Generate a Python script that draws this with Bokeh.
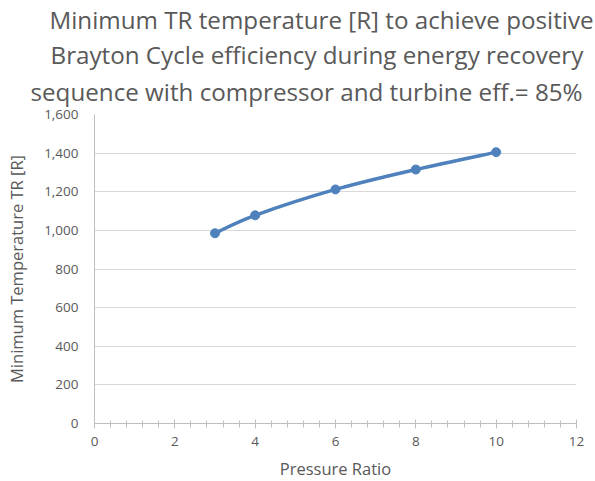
from bokeh.plotting import figure
from bokeh.models import Title, Range1d, FixedTicker, NumeralTickFormatter
from bokeh.embed import file_html
from bokeh.resources import INLINE

pressure_ratio = [3, 4, 6, 8, 10]
min_temp_R = [985, 1078, 1212, 1315, 1405]

title_lines = [
    "Minimum TR temperature [R] to achieve positive",
    "Brayton Cycle efficiency during energy recovery",
    "sequence with compressor and turbine eff.= 85%",
]
title_offsets = [-45, -44, -64]
x_ticks = [0, 2, 4, 6, 8, 10, 12]
y_ticks = [0, 200, 400, 600, 800, 1000, 1200, 1400, 1600]

FONT = "Open Sans"
GRAY = "#595959"
LINE = "#4f81bd"

p = figure(frame_width=482, frame_height=309, output_backend="svg", toolbar_location=None,
           x_range=Range1d(0, 12), y_range=Range1d(0, 1600),
           min_border_left=94, min_border_right=19, min_border_bottom=50,
           min_border_top=113, title=None)
p.outline_line_color = None
p.background_fill_color = "white"
p.border_fill_color = "white"

for i in (2, 1, 0):
    p.add_layout(Title(text=title_lines[i], align="left", offset=title_offsets[i],
                       text_font=FONT, text_font_size="24.2px", text_color=GRAY,
                       text_font_style="normal",
                       vertical_align="top" if i == 2 else "bottom",
                       standoff=9 if i == 2 else 0),
                 "above")

# smooth curve (Catmull-Rom style bezier segments computed from the data)
xs, ys = pressure_ratio, min_temp_R
n = len(xs)
x0, y0, x1, y1, cx0, cy0, cx1, cy1 = [], [], [], [], [], [], [], []
for i in range(n - 1):
    xp, yp = (xs[i - 1], ys[i - 1]) if i > 0 else (xs[i], ys[i])
    xn, yn = (xs[i + 2], ys[i + 2]) if i + 2 < n else (xs[i + 1], ys[i + 1])
    x0.append(xs[i]); y0.append(ys[i]); x1.append(xs[i + 1]); y1.append(ys[i + 1])
    cx0.append(xs[i] + (xs[i + 1] - xp) / 6); cy0.append(ys[i] + (ys[i + 1] - yp) / 6)
    cx1.append(xs[i + 1] - (xn - xs[i]) / 6); cy1.append(ys[i + 1] - (yn - ys[i]) / 6)
p.bezier(x0=x0, y0=y0, x1=x1, y1=y1, cx0=cx0, cy0=cy0, cx1=cx1, cy1=cy1,
         line_color=LINE, line_width=3.5)
p.scatter(xs, ys, size=9, color=LINE)

# axes
p.xaxis.ticker = FixedTicker(ticks=x_ticks, minor_ticks=[i * 0.4 for i in range(31)])
p.yaxis.ticker = FixedTicker(ticks=y_ticks)
p.yaxis.formatter = NumeralTickFormatter(format="0,0")
p.xaxis.axis_label = "Pressure Ratio"
p.yaxis.axis_label = "Minimum Temperature TR [R]"
for ax in (p.xaxis[0], p.yaxis[0]):
    ax.axis_label_text_font = FONT
    ax.axis_label_text_font_size = "16.5px"
    ax.axis_label_text_color = GRAY
    ax.axis_label_text_font_style = "normal"
    ax.major_label_text_font = FONT
    ax.major_label_text_font_size = "13.5px"
    ax.major_label_text_color = GRAY
    ax.axis_line_color = "#bfbfbf"
    ax.major_tick_line_color = "#bfbfbf"
    ax.minor_tick_line_color = "#bfbfbf"
p.xaxis.major_tick_in = 4
p.xaxis.major_tick_out = 5
p.xaxis.minor_tick_in = 3
p.xaxis.minor_tick_out = 4
p.xaxis.major_label_standoff = 8
p.xaxis.axis_label_standoff = 8
p.yaxis.major_tick_in = 0
p.yaxis.major_tick_out = 0
p.yaxis.minor_tick_line_color = None
p.yaxis.major_label_standoff = 16
p.yaxis.axis_label_standoff = 13
p.xgrid.grid_line_color = None
p.ygrid.grid_line_color = "#d9d9d9"

open("out.html", "w").write(file_html(p, INLINE))
